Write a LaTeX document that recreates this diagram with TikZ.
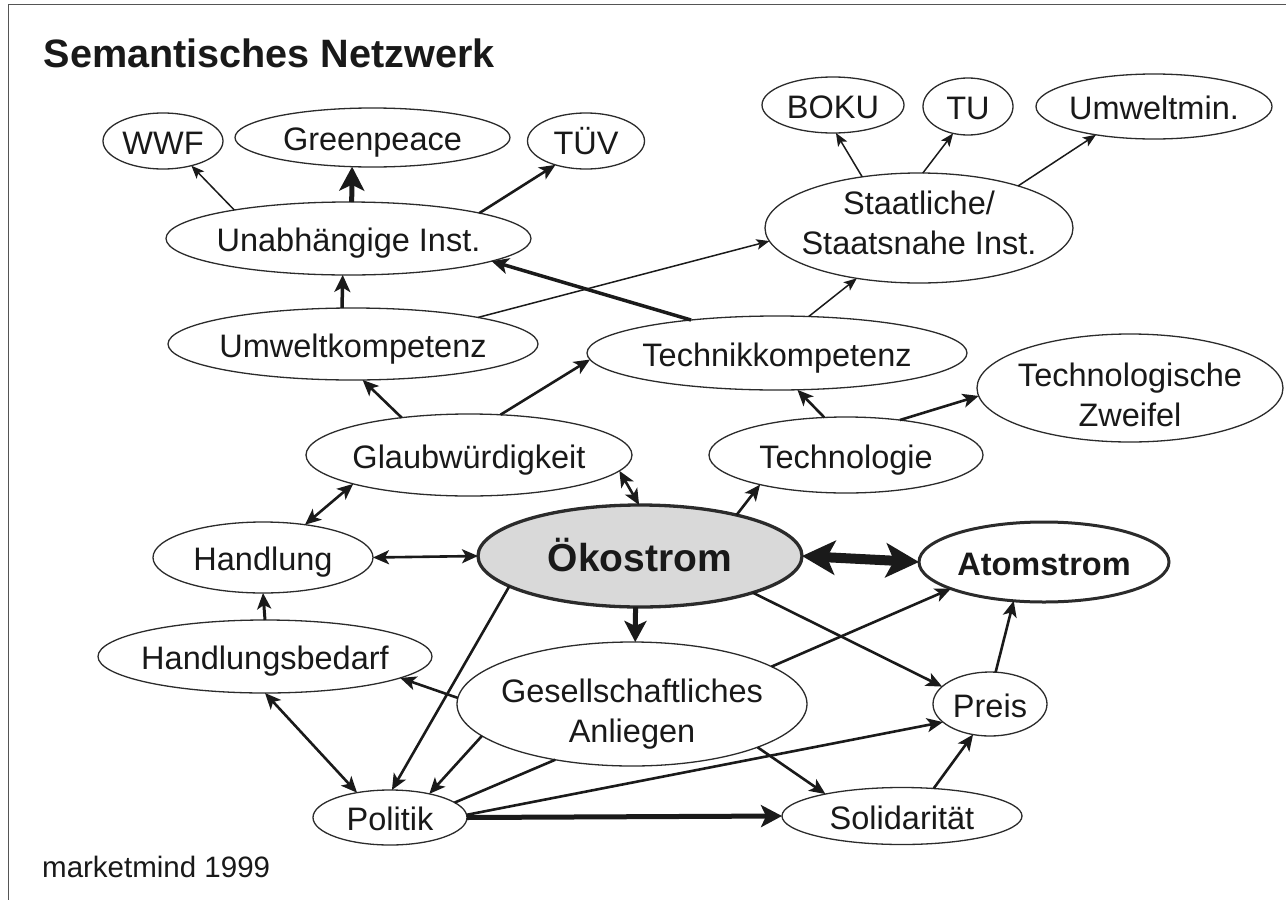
\documentclass[tikz,border=0pt]{standalone}
\usepackage{fontspec}
\setmainfont{Liberation Sans}
\usetikzlibrary{shapes.geometric,arrows.meta}
\newcommand\nodefont{\fontsize{32.5}{40}\selectfont}
\definecolor{edgecol}{HTML}{1A1A1A}
\definecolor{bordercol}{HTML}{2B2B2B}
\definecolor{okofill}{HTML}{D9D9D9}
\definecolor{framecol}{HTML}{555555}
\begin{document}
\begin{tikzpicture}[x=1pt,y=-1pt,
  ell/.style={ellipse, draw=bordercol, line width=1.3pt, fill=white, inner sep=0pt, outer sep=0pt},
  lab/.style={font=\nodefont, text=black!90, inner sep=0pt, text height=26pt, text depth=0pt},
  labtwo/.style={font=\nodefont, text=black!90, inner sep=0pt, align=center},
  thinarr/.style={draw=edgecol, line width=1.5pt, -{Stealth[length=13pt,width=10.5pt,inset=3pt]}},
  medarr/.style={draw=edgecol, line width=2.6pt, -{Stealth[length=16pt,width=14pt,inset=4pt]}},
  medline/.style={draw=edgecol, line width=2.6pt},
  meddbl/.style={draw=edgecol, line width=2.6pt, {Stealth[length=16pt,width=14pt,inset=4pt]}-{Stealth[length=16pt,width=14pt,inset=4pt]}},
  semarr/.style={draw=edgecol, line width=3.5pt, -{Stealth[length=17pt,width=16pt,inset=4.5pt]}},
  thickarr/.style={draw=edgecol, line width=5pt, -{Stealth[length=21pt,width=22pt,inset=5pt]}},
  bigdbl/.style={draw=edgecol, line width=10pt, {Stealth[length=33pt,width=34pt,inset=8pt]}-{Stealth[length=33pt,width=34pt,inset=8pt]}},
]
\useasboundingbox (0,0) rectangle (1286,900);
% frame
\draw[framecol, line width=1.5pt] (8.3,900) -- (8.3,4.3) -- (1286,4.3);

% title and credit
\node[anchor=base west, inner sep=0pt, font=\fontsize{39.6}{46}\selectfont\bfseries, text=black!90] (title) at (43.5,67) {Semantisches Netzwerk};
\node[anchor=base west, inner sep=0pt, font=\fontsize{29.5}{35}\selectfont, text=black!90] (credit) at (42,877) {marketmind 1999};

% nodes
\node[ell, minimum width=120pt, minimum height=56pt, label={[lab]center:WWF}] (wwf) at (163,141) {};
\node[ell, minimum width=275pt, minimum height=59pt, label={[lab]center:Greenpeace}] (gp) at (372.5,137.5) {};
\node[ell, minimum width=117pt, minimum height=56pt, label={[lab]center:TÜV}] (tuev) at (586,141) {};
\node[ell, minimum width=365pt, minimum height=73pt, label={[lab]center:Unabhängige Inst.}] (unab) at (348.5,238.5) {};
\node[ell, minimum width=142pt, minimum height=56pt, label={[lab]center:BOKU}] (boku) at (833,105) {};
\node[ell, minimum width=90pt, minimum height=57pt, label={[lab]center:TU}] (tu) at (968,106.5) {};
\node[ell, minimum width=236pt, minimum height=65pt, label={[lab]center:Umweltmin.}] (umin) at (1154,106.5) {};
\node[ell, minimum width=308pt, minimum height=110pt, label={[labtwo,yshift=4.75pt]center:Staatliche/\\Staatsnahe Inst.}] (staat) at (919,228) {};
\node[ell, minimum width=370pt, minimum height=72pt, label={[lab]center:Umweltkompetenz}] (uk) at (353,344) {};
\node[ell, minimum width=380pt, minimum height=74pt, label={[lab]center:Technikkompetenz}] (tk) at (777,353) {};
\node[ell, minimum width=306pt, minimum height=108pt, label={[labtwo,yshift=-7pt]center:Technologische\\Zweifel}] (tz) at (1130,388) {};
\node[ell, minimum width=326pt, minimum height=82pt, label={[lab]center:Glaubwürdigkeit}] (glaub) at (469,455) {};
\node[ell, minimum width=274pt, minimum height=76pt, label={[lab]center:Technologie}] (techno) at (846,455) {};
\node[ell, minimum width=220pt, minimum height=71pt, label={[lab]center:Handlung}] (handl) at (263,557.5) {};
\node[ell, line width=3.3pt, fill=okofill, minimum width=324pt, minimum height=102pt, label={[lab, font=\fontsize{39}{46}\selectfont\bfseries, text height=31.2pt]center:Ökostrom}] (oeko) at (640,556) {};
\node[ell, line width=3pt, minimum width=250pt, minimum height=80pt, label={[lab, font=\fontsize{32.5}{40}\selectfont\bfseries]center:Atomstrom}] (atom) at (1044,562) {};
\node[ell, minimum width=334pt, minimum height=73pt, label={[lab]center:Handlungsbedarf}] (hb) at (265,656.5) {};
\node[ell, minimum width=350pt, minimum height=124pt, label={[labtwo,yshift=-10pt]center:Gesellschaftliches\\Anliegen}] (gesell) at (632,704) {};
\node[ell, minimum width=114pt, minimum height=64pt, label={[lab]center:Preis}] (preis) at (990,704) {};
\node[ell, minimum width=154pt, minimum height=55pt, label={[lab]center:Politik}] (politik) at (390,817.5) {};
\node[ell, minimum width=240pt, minimum height=57pt, label={[lab]center:Solidarität}] (solid) at (902,816) {};

% thin connectors
\draw[thinarr] (unab.166) -- (wwf.-41);
\draw[thinarr] (staat.138) -- (boku.-84);
\draw[thinarr] (staat.86) -- (tu.-119);
\draw[thinarr] (staat.23) -- (umin.-154);
\draw[thinarr] (uk.12) -- (staat.-175);
\draw[thinarr] (tk.49) -- (staat.-141);

% medium connectors
\draw[medarr] (unab.11) -- (tuev.-142);
\draw[medarr] (glaub.151) -- (uk.-75);
\draw[medarr] (glaub.52) -- (tk.-178);
\draw[medarr] (techno.120) -- (tk.-61);
\draw[medarr] (techno.33) -- (tz.-177);
\draw[medarr] (oeko.23) -- (techno.-161);
\draw[meddbl] (glaub.-6) -- (oeko.91);
\draw[meddbl] (handl.38) -- (glaub.-166);
\draw[meddbl] (handl.0) -- (oeko.180);
\draw[medarr, line width=3pt] (hb.90) -- (handl.-90);
\draw[medarr] (oeko.-167) -- (politik.86);
\draw[medarr] (gesell.178) -- (hb.-9);
\draw[meddbl] (hb.-90) -- (politik.143);
\draw[medarr] (gesell.-168) -- (politik.31);
\draw[medline] (politik.13) -- (gesell.-144);
\draw[medarr] (politik.2) -- (preis.-159);
\draw[medarr] (oeko.-18) -- (preis.160);
\draw[medarr] (gesell.15) -- (atom.-164);
\draw[medarr] (preis.80) -- (atom.-128);
\draw[medarr] (gesell.-19) -- (solid.164);
\draw[medarr] (solid.41) -- (preis.-119);

% thick connectors
\draw[thickarr, -{Stealth[length=24pt,width=25pt,inset=6pt]}] (unab.85) -- (gp.-125);
\draw[semarr] (uk.107) -- (unab.-99);
\draw[semarr] (tk.159) -- (unab.-9);
\draw[thickarr] (oeko.-95) -- (gesell.87);
\draw[thickarr] (politik.0) -- (solid.180);
\draw[bigdbl] (oeko.0) -- (atom.180);
\end{tikzpicture}
\end{document}
